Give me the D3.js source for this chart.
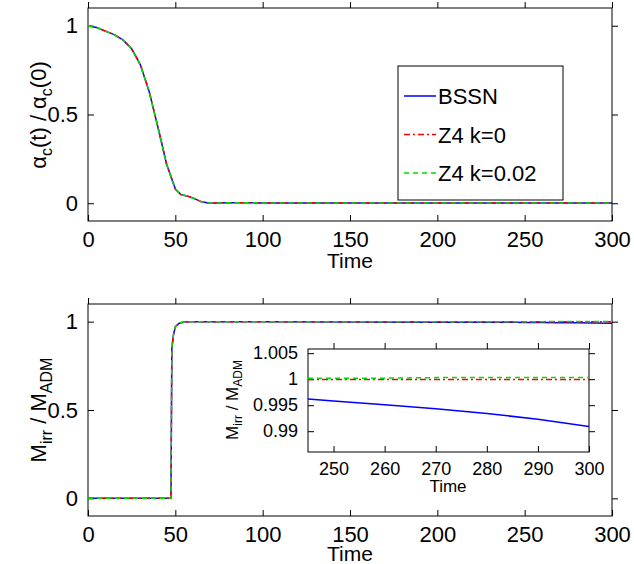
<!DOCTYPE html>
<html><head><meta charset="utf-8">
<script src="https://cdn.jsdelivr.net/npm/d3@7"></script>
<style>body{margin:0;background:#fff}svg{font-family:"Liberation Sans",Arial,sans-serif}</style>
</head><body><svg id="c" width="634" height="564"></svg>
<script>
// lapse at centre
const alphaT = [0,5,10,15,20,25,30,35,40,45,50,53,57,60,65,70,80,100,150,200,250,300];
const alphaV = [1,0.99,0.97,0.95,0.92,0.87,0.78,0.63,0.43,0.22,0.08,0.05,0.04,0.03,0.008,0,0.003,0.002,0.002,0.002,0.002,0.002];
// irreducible mass
const massT = [0,47.5,48,49,50,52,55,100,150,200,245,250,260,270,280,290,300];
const massBSSN = [0,0,0.85,0.93,0.97,0.99,0.9995,0.999,0.998,0.997,0.9962,0.9958,0.9951,0.9943,0.9934,0.9923,0.9909];
const massZ4k0 = [0,0,0.85,0.93,0.97,0.99,1,1,1,1,0.99995,0.99995,0.99995,0.99995,0.99995,0.99995,0.99995];
const massZ4k2 = [0,0,0.85,0.93,0.97,0.99,1,1.0001,1.0002,1.0002,1.0002,1.0002,1.0002,1.0003,1.0003,1.0003,1.0003];
const seriesNames = ['BSSN','Z4 k=0','Z4 k=0.02'];
const colors = ['#0000ff','#ff0000','#00dd00'];
const dashes = [null,'6,3,2,3','5,4'];
const xTicks = [0,50,100,150,200,250,300];
const insetXTicks = [250,260,270,280,290,300];
const insetYTicks = [0.99,0.995,1,1.005];

const svg = d3.select('#c');

function panel(x0,x1,y0,y1,xd,yd,xt,yt,fs,yfmt){
  const g = svg.append('g');
  const x = d3.scaleLinear().domain(xd).range([x0,x1]);
  const y = d3.scaleLinear().domain(yd).range([y1,y0]);
  g.append('rect').attr('x',x0).attr('y',y0).attr('width',x1-x0).attr('height',y1-y0).attr('fill','#fff');
  const ax = [[d3.axisBottom(x),y1,-1],[d3.axisTop(x),y0,1]];
  ax.forEach(([a,pos,dir],i)=>{
    a.tickValues(xt).tickSizeInner(dir*6).tickSizeOuter(0).tickPadding(-dir*6+ (i?0:4)).tickFormat(i?'':d3.format('d'));
    const s=g.append('g').attr('transform',`translate(0,${pos})`).call(a);
    s.select('.domain').remove();
    s.selectAll('text').attr('font-size',fs).attr('font-family','Liberation Sans');
  });
  [[d3.axisLeft(y),x0,-1],[d3.axisRight(y),x1,1]].forEach(([a,pos,dir],i)=>{
    a.tickValues(yt).tickSizeInner(dir*6).tickSizeOuter(0).tickPadding(i?0:10).tickFormat(i?'':yfmt);
    const s=g.append('g').attr('transform',`translate(${pos},0)`).call(a);
    s.select('.domain').remove();
    s.selectAll('text').attr('font-size',fs).attr('font-family','Liberation Sans');
  });
  g.append('rect').attr('x',x0).attr('y',y0).attr('width',x1-x0).attr('height',y1-y0).attr('fill','none').attr('stroke','#000');
  const clipId='cl'+Math.round(x0+y0);
  g.append('clipPath').attr('id',clipId).append('rect').attr('x',x0).attr('y',y0).attr('width',x1-x0).attr('height',y1-y0);
  return {g,x,y,clipId};
}
function draw(p,ts,vs){
  const line=d3.line().x((d,i)=>p.x(ts[i])).y(d=>p.y(d));
  vs.forEach((v,i)=>p.g.append('path').datum(v).attr('d',line).attr('fill','none')
    .attr('stroke',colors[i]).attr('stroke-width',1.5).attr('stroke-dasharray',dashes[i])
    .attr('clip-path',`url(#${p.clipId})`));
}
const fmtMain = d=>d===0.5?'0.5':d3.format('d')(d);

// top panel
const p1 = panel(88,612,8,221,[0,300],[-0.1,1.1],xTicks,[0,0.5,1],22,fmtMain);
draw(p1,alphaT,[alphaV,alphaV,alphaV]);
svg.append('text').attr('x',350).attr('y',268).attr('text-anchor','middle').attr('font-size',21).text('Time');
const yl1 = svg.append('text').attr('transform','translate(46,115) rotate(-90)').attr('text-anchor','middle').attr('font-size',22);
yl1.append('tspan').text('α');yl1.append('tspan').attr('font-size',16).attr('dy',6).text('c');
yl1.append('tspan').attr('dy',-6).text('(t) / α');yl1.append('tspan').attr('font-size',16).attr('dy',6).text('c');
yl1.append('tspan').attr('dy',-6).text('(0)');
// legend
const lg = svg.append('g');
lg.append('rect').attr('x',398).attr('y',66).attr('width',165).attr('height',134).attr('fill','#fff').attr('stroke','#000');
seriesNames.forEach((n,i)=>{
  const yy=96+i*38.5;
  lg.append('line').attr('x1',404).attr('x2',436).attr('y1',yy).attr('y2',yy).attr('stroke',colors[i]).attr('stroke-width',1.5).attr('stroke-dasharray',dashes[i]);
  lg.append('text').attr('x',438).attr('y',yy+8).attr('font-size',22).text(n);
});

// bottom panel
const p2 = panel(88,612,304,516,[0,300],[-0.1,1.1],xTicks,[0,0.5,1],22,fmtMain);
draw(p2,massT,[massBSSN,massZ4k0,massZ4k2]);
svg.append('text').attr('x',350).attr('y',561).attr('text-anchor','middle').attr('font-size',21).text('Time');
const yl2 = svg.append('text').attr('transform','translate(46,410) rotate(-90)').attr('text-anchor','middle').attr('font-size',22);
yl2.append('tspan').text('M');yl2.append('tspan').attr('font-size',16).attr('dy',6).text('irr');
yl2.append('tspan').attr('dy',-6).text(' / M');yl2.append('tspan').attr('font-size',16).attr('dy',6).text('ADM');

// inset
const iT = massT.slice(10);
const p3 = panel(308,589,349,452,[245,300],[0.986,1.0058],insetXTicks,insetYTicks,18,d=>d===1?'1':d3.format('.3~f')(d));
draw(p3,iT,[massBSSN.slice(10),massZ4k0.slice(10),massZ4k2.slice(10)]);
svg.append('text').attr('x',448).attr('y',492).attr('text-anchor','middle').attr('font-size',17).text('Time');
const yl3 = svg.append('text').attr('transform','translate(238,400) rotate(-90)').attr('text-anchor','middle').attr('font-size',17);
yl3.append('tspan').text('M');yl3.append('tspan').attr('font-size',12).attr('dy',4).text('irr');
yl3.append('tspan').attr('dy',-4).text(' / M');yl3.append('tspan').attr('font-size',12).attr('dy',4).text('ADM');
</script></body></html>
